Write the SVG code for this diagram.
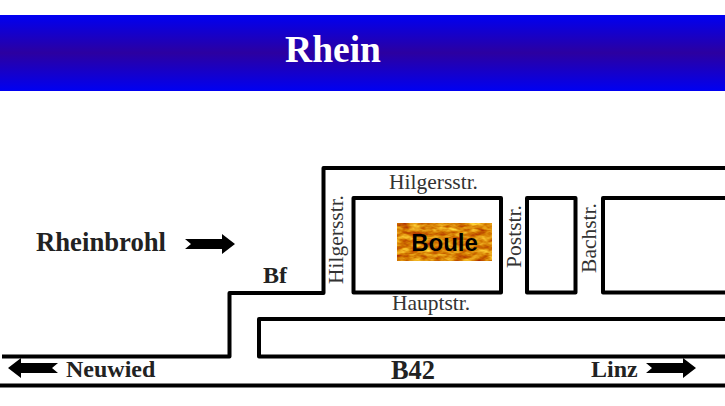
<svg xmlns="http://www.w3.org/2000/svg" width="725" height="406" viewBox="0 0 725 406">
<style>
.road{fill:none;stroke:#000;stroke-width:4;stroke-linejoin:round;stroke-linecap:butt}
.st{font-family:"Liberation Serif",serif;font-size:21.500px;fill:#333}
.pl{font-family:"Liberation Serif",serif;font-size:24px;font-weight:bold;fill:#222}
.arr{fill:#000}
</style>
<defs>
<linearGradient id="sky" x1="0" y1="0" x2="0" y2="1">
<stop offset="0" stop-color="#0000f2"/><stop offset="0.5" stop-color="#2c00a0"/><stop offset="1" stop-color="#0000f2"/>
</linearGradient>
<filter id="tex" x="0" y="0" width="1" height="1" color-interpolation-filters="sRGB">
<feTurbulence type="fractalNoise" baseFrequency="0.09 0.22" numOctaves="3" seed="7"/>
<feColorMatrix type="matrix" values="0.5 0 0 0 0.6  1 0 0 0 0.02  0.6 0 0 0 -0.27  0 0 0 0 1"/>
<feComposite in2="SourceGraphic" operator="in"/>
</filter>
<polygon id="ar" points="0,-5 37,-5 37,-10 50,0 37,10 37,5 0,5 6,0"/>
</defs>
<rect width="725" height="406" fill="#fff"/>
<g id="banner">
<rect x="0" y="15" width="725" height="76" fill="url(#sky)"/>
<text x="333" y="62" text-anchor="middle" font-family="Liberation Serif, serif" font-size="37.500" font-weight="bold" fill="#fff">Rhein</text>
</g>
<g id="connectors">
<path class="road" d="M725 168H323.500V293H229.500V356.500H2"/>
<path class="road" d="M0 385.500H725"/>
<path class="road" d="M725 319H259V356.500H725"/>
<path class="road" d="M353.500 198H501V292.500H353.500Z"/>
<path class="road" d="M527 198H575.500V292.500H527Z"/>
<path class="road" d="M725 198H603V292.500H725"/>
</g>
<g id="boule">
<rect x="397" y="223" width="95" height="38" fill="#d08000" filter="url(#tex)"/>
<text x="444.500" y="251" text-anchor="middle" font-family="Liberation Sans, sans-serif" font-size="24" font-weight="bold" fill="#000">Boule</text>
</g>
<g id="labels">
<text class="st" x="433.500" y="189" text-anchor="middle">Hilgersstr.</text>
<text class="st" x="431" y="310" text-anchor="middle">Hauptstr.</text>
<text class="st" transform="translate(343 239.500) rotate(-90)" text-anchor="middle">Hilgersstr.</text>
<text class="st" transform="translate(521 236.500) rotate(-90)" text-anchor="middle">Poststr.</text>
<text class="st" transform="translate(596 238) rotate(-90)" text-anchor="middle">Bachstr.</text>
</g>
<g id="rheinbrohl">
<text class="pl" x="36" y="251" style="font-size:26.700px">Rheinbrohl</text>
<use href="#ar" class="arr" transform="translate(185 244)"/>
</g>
<g id="bf"><text class="pl" x="263" y="283">Bf</text></g>
<g id="neuwied">
<text class="pl" x="66" y="377">Neuwied</text>
<use href="#ar" class="arr" transform="translate(58 368) rotate(180)"/>
</g>
<g id="b42"><text class="pl" x="391" y="379" style="font-size:26.400px">B42</text></g>
<g id="linz">
<text class="pl" x="591" y="377">Linz</text>
<use href="#ar" class="arr" transform="translate(646 368)"/>
</g>
</svg>
